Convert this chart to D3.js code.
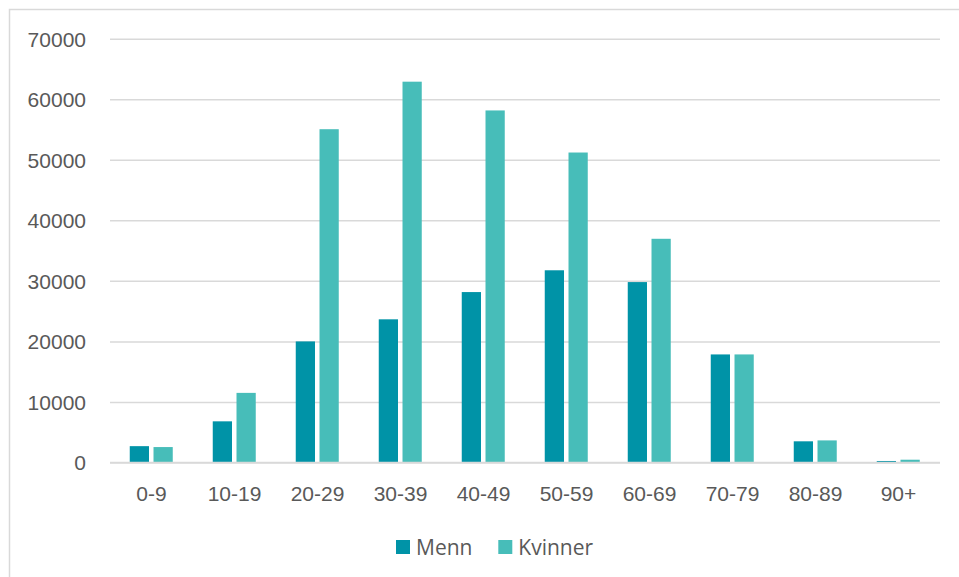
<!DOCTYPE html>
<html>
<head>
<meta charset="utf-8">
<script src="https://cdn.jsdelivr.net/npm/d3@7"></script>
<style>
  html, body { margin: 0; padding: 0; background: #fff; }
  svg { display: block; font-family: "Open Sans", "Noto Sans", sans-serif; }
</style>
</head>
<body>
<svg id="chart" width="959" height="577"></svg>
<script>
// Age groups and counts per sex
const categories = ["0-9", "10-19", "20-29", "30-39", "40-49", "50-59", "60-69", "70-79", "80-89", "90+"];
const seriesNames = ["Menn", "Kvinner"];
const menn    = [2700, 6800, 20000, 23650, 28150, 31750, 29800, 17850, 3500, 250];
const kvinner = [2550, 11500, 55050, 62900, 58150, 51200, 36950, 17850, 3650, 460];
const yTicks = [0, 10000, 20000, 30000, 40000, 50000, 60000, 70000];
const colors = ["#0093a7", "#47bdb9"];

const svg = d3.select("#chart");
const W = 959, H = 577;
const plot = { left: 110, right: 940, top: 38.7, bottom: 462.5 };

// Outer chart frame
svg.append("rect")
  .attr("x", 9.5).attr("y", 9.5)
  .attr("width", W + 20).attr("height", H + 20)
  .attr("fill", "#fff").attr("stroke", "#d9d9d9").attr("stroke-width", 1.5);

const y = d3.scaleLinear().domain([0, 70000]).range([plot.bottom, plot.top]);
const x0 = d3.scaleBand().domain(categories).range([plot.left, plot.right]).padding(0);
const bw = x0.bandwidth();
const x1 = d3.scaleBand().domain(seriesNames)
  .range([bw / 2 - 21.75, bw / 2 + 21.25]).paddingInner(0.19).paddingOuter(0);

// Gridlines and value labels
const yAxis = d3.axisLeft(y).tickValues(yTicks).tickSize(-(plot.right - plot.left)).tickPadding(24)
  .tickFormat(d3.format("d"));
const gy = svg.append("g").attr("transform", `translate(${plot.left},0)`).call(yAxis);
gy.select(".domain").remove();
gy.selectAll(".tick line").attr("stroke", "#d9d9d9").attr("stroke-width", 1.5);
gy.selectAll(".tick text").attr("fill", "#595959").attr("font-size", 21).attr("dy", "0.35em");

// Bars
const rows = categories.map((c, i) => ({ cat: c, vals: [menn[i], kvinner[i]] }));
const groups = svg.append("g").selectAll("g").data(rows).join("g")
  .attr("transform", d => `translate(${x0(d.cat)},0)`);
groups.selectAll("rect")
  .data(d => d.vals.map((v, j) => ({ name: seriesNames[j], v, j })))
  .join("rect")
  .attr("x", d => x1(d.name))
  .attr("width", x1.bandwidth())
  .attr("y", d => y(d.v))
  .attr("height", d => y(0) - y(d.v))
  .attr("fill", d => colors[d.j]);

// Baseline
svg.append("line")
  .attr("x1", plot.left).attr("x2", plot.right)
  .attr("y1", y(0)).attr("y2", y(0))
  .attr("stroke", "#d9d9d9").attr("stroke-width", 1.5);

// Category labels
const xAxis = d3.axisBottom(x0).tickSize(0).tickPadding(24);
const gx = svg.append("g").attr("transform", `translate(0,${plot.bottom})`).call(xAxis);
gx.select(".domain").remove();
gx.selectAll(".tick text").attr("fill", "#595959").attr("font-size", 21);

// Legend
const legendItems = [
  { name: seriesNames[0], color: colors[0], x: 396 },
  { name: seriesNames[1], color: colors[1], x: 498.3 }
];
const lg = svg.append("g");
legendItems.forEach(it => {
  lg.append("rect").attr("x", it.x).attr("y", 540).attr("width", 14).attr("height", 14).attr("fill", it.color);
  lg.append("text").attr("x", it.x + 20).attr("y", 554.5)
    .attr("fill", "#595959").attr("font-size", 21).text(it.name);
});
</script>
</body>
</html>
